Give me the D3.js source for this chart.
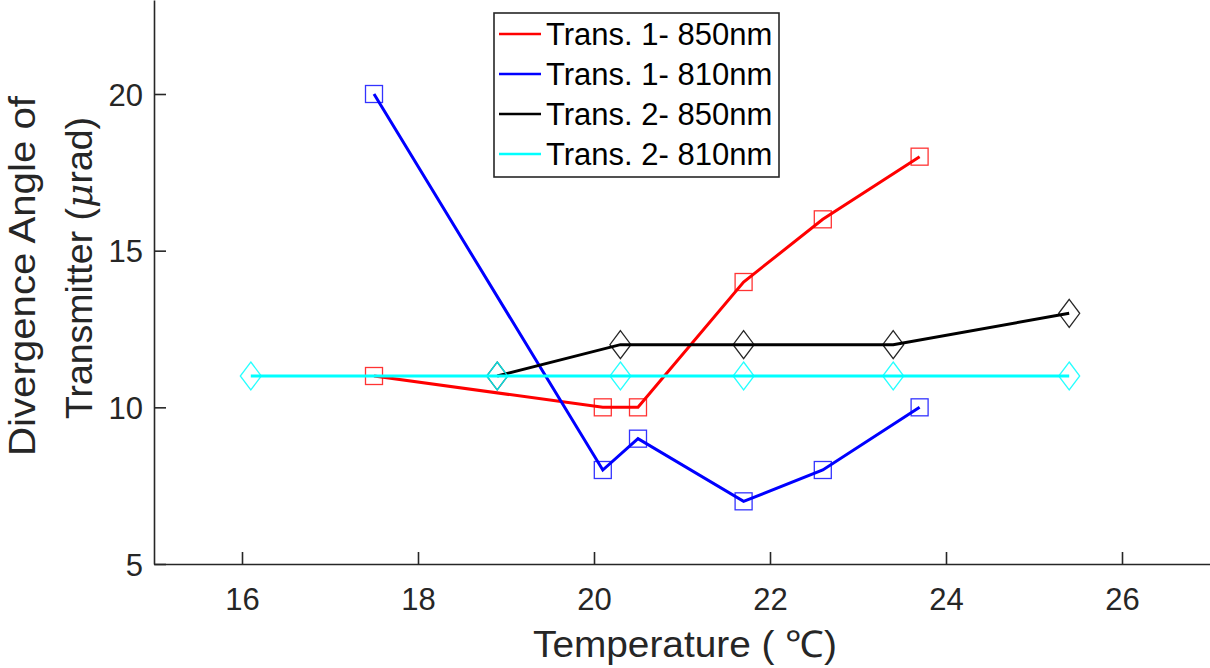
<!DOCTYPE html>
<html>
<head>
<meta charset="utf-8">
<script src="https://cdn.jsdelivr.net/npm/d3@7"></script>
<style>
  body { margin: 0; background: #fff; }
  svg { font-family: "Liberation Sans", Arial, sans-serif; }
</style>
</head>
<body>
<div id="chart"></div>
<script>
// donnees
const seriesNames = ["Trans. 1- 850nm", "Trans. 1- 810nm", "Trans. 2- 850nm", "Trans. 2- 810nm"];
const seriesColors = ["#ff0000", "#0000ff", "#000000", "#00ffff"];
const seriesMarkers = ["square", "square", "diamond", "diamond"];

const t1Temp = [17.5, 20.1, 20.5, 21.7, 22.6, 23.7];
const t1_850 = [11, 10, 10, 14, 16, 18];
const t1_810 = [20, 8, 9, 7, 8, 10];

const t2Temp850 = [18.9, 20.3, 21.7, 23.4, 25.4];
const t2_850 = [11, 12, 12, 12, 13];
const t2Temp810 = [16.1, 18.9, 20.3, 21.7, 23.4, 25.4];
const t2_810 = [11, 11, 11, 11, 11, 11];

const xTicks = [16, 18, 20, 22, 24, 26];
const yTicks = [5, 10, 15, 20];

const width = 1210, height = 668;
const axisCol = "#262626";

const x = d3.scaleLinear().domain([15, 27]).range([154, 1210]);
const y = d3.scaleLinear().domain([5, 23]).range([564, 0]);

const svg = d3.select("#chart").append("svg")
  .attr("width", width).attr("height", height);

// axes
const xAxis = svg.append("g").attr("transform", "translate(0,564)")
  .call(d3.axisBottom(x).tickValues(xTicks).tickSize(-12).tickPadding(24).tickSizeOuter(0));
const yAxis = svg.append("g").attr("transform", "translate(154,0)")
  .call(d3.axisLeft(y).tickValues(yTicks).tickSize(-12).tickPadding(11).tickSizeOuter(0));

[xAxis, yAxis].forEach(a => {
  a.select(".domain").attr("stroke", axisCol).attr("stroke-width", 1.6);
  a.selectAll(".tick line").attr("stroke", axisCol).attr("stroke-width", 1.6);
  a.selectAll(".tick text").attr("fill", axisCol).attr("font-size", 31)
    .attr("font-family", "Liberation Sans, Arial, sans-serif");
});
xAxis.selectAll(".tick text").attr("dy", "0.71em");
yAxis.selectAll(".tick text").attr("dy", "0.36em");

// titres des axes
svg.append("text")
  .attr("x", 685).attr("y", 657)
  .attr("text-anchor", "middle").attr("font-size", 37).attr("fill", axisCol)
  .attr("textLength", 304).attr("lengthAdjust", "spacingAndGlyphs")
  .text("Temperature ( \u2103)");

const yl = svg.append("g").attr("transform", "rotate(-90)");
yl.append("text").attr("x", -276).attr("y", 35)
  .attr("text-anchor", "middle").attr("font-size", 36).attr("fill", axisCol)
  .attr("textLength", 360).attr("lengthAdjust", "spacingAndGlyphs")
  .text("Divergence Angle of");
const yl2 = yl.append("text").attr("x", -268).attr("y", 92)
  .attr("text-anchor", "middle").attr("font-size", 37.5).attr("fill", axisCol);
yl2.append("tspan").text("Transmitter (");
yl2.append("tspan").attr("font-style", "italic").attr("font-family", "DejaVu Serif, serif").text("\u03bc");
yl2.append("tspan").text("rad)");

// series
const allSeries = [
  { xs: t1Temp, ys: t1_850 },
  { xs: t1Temp, ys: t1_810 },
  { xs: t2Temp850, ys: t2_850 },
  { xs: t2Temp810, ys: t2_810 }
];

const line = d3.line().x(d => x(d[0])).y(d => y(d[1]));

function drawMarker(g, type, cx, cy, col){
  if(type == "square"){
    g.append("rect").attr("x", cx - 8.5).attr("y", cy - 8.5)
      .attr("width", 17).attr("height", 17)
      .attr("fill", "none").attr("stroke", col).attr("stroke-width", 1.3).attr("stroke-opacity", 0.8);
  } else {
    let d = "M" + cx + "," + (cy - 14) + " L" + (cx + 10.5) + "," + cy +
            " L" + cx + "," + (cy + 14) + " L" + (cx - 10.5) + "," + cy + "Z";
    g.append("path").attr("d", d)
      .attr("fill", "none").attr("stroke", col).attr("stroke-width", 1.3).attr("stroke-opacity", 0.85);
  }
}

allSeries.forEach((s, i) => {
  const pts = s.xs.map((v, k) => [v, s.ys[k]]);
  const g = svg.append("g");
  g.append("path").attr("d", line(pts))
    .attr("fill", "none").attr("stroke", seriesColors[i]).attr("stroke-width", 3);
  pts.forEach(p => drawMarker(g, seriesMarkers[i], x(p[0]), y(p[1]), seriesColors[i]));
});

// legende
const leg = svg.append("g");
leg.append("rect").attr("x", 494).attr("y", 13).attr("width", 285).attr("height", 164)
  .attr("fill", "#fff").attr("stroke", axisCol).attr("stroke-width", 1.6);
seriesNames.forEach((n, i) => {
  const yy = 34 + i * 40;
  leg.append("line").attr("x1", 499).attr("x2", 541).attr("y1", yy).attr("y2", yy)
    .attr("stroke", seriesColors[i]).attr("stroke-width", 2.5);
  leg.append("text").attr("x", 546).attr("y", yy).attr("dy", "0.36em")
    .attr("font-size", 31).attr("fill", "#000").text(n);
});
</script>
</body>
</html>
